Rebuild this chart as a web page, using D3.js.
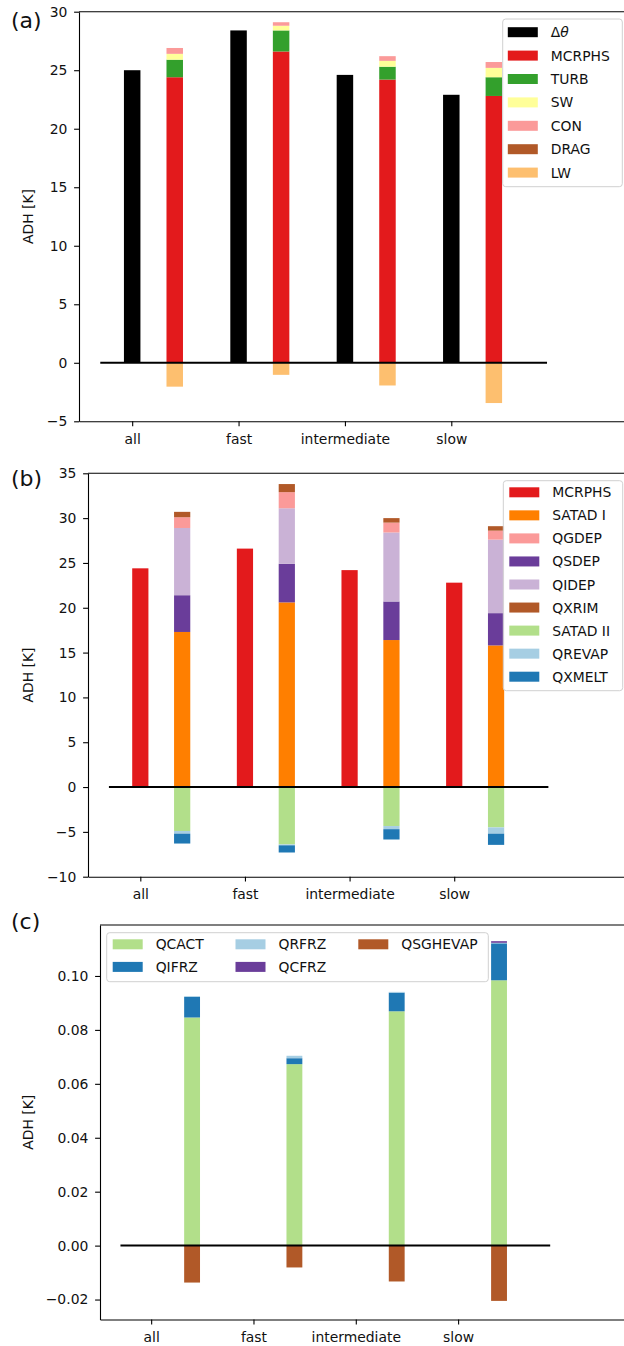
<!DOCTYPE html>
<html>
<head>
<meta charset="utf-8">
<script src="https://cdn.jsdelivr.net/npm/d3@7"></script>
<style>
  body { margin: 0; background: #fff; }
  svg { display: block; font-family: "DejaVu Sans", sans-serif; }
</style>
</head>
<body>
<div id="plot-container"></div>
<script>
var categories = ["all", "fast", "intermediate", "slow"];

// (a) total heating vs. process budget
var dtheta = [25.0, 28.4, 24.6, 22.9];
var mcrphs = [24.4, 26.6, 24.2, 22.8];
var turb = [1.5, 1.8, 1.1, 1.6];
var sw = [0.5, 0.4, 0.5, 0.8];
var con = [0.5, 0.3, 0.4, 0.5];
var drag = [-0.04, -0.03, -0.04, -0.04];
var lw = [-2.0, -1.0, -1.9, -3.4];
var ticksA = [-5, 0, 5, 10, 15, 20, 25, 30];

// (b) microphysics split
var satad1 = [17.3, 20.6, 16.4, 15.8];
var qsdep = [4.1, 4.3, 4.3, 3.6];
var qidep = [7.5, 6.2, 7.7, 8.2];
var qgdep = [1.2, 1.8, 1.1, 1.0];
var qxrim = [0.6, 0.9, 0.5, 0.5];
var satad2 = [-4.9, -6.4, -4.35, -4.5];
var qrevap = [-0.3, -0.1, -0.35, -0.7];
var qxmelt = [-1.1, -0.8, -1.15, -1.25];
var ticksB = [-10, -5, 0, 5, 10, 15, 20, 25, 30, 35];

// (c) small terms
var qcact = [0.0846, 0.0673, 0.0869, 0.0984];
var qifrz = [0.0076, 0.0022, 0.0069, 0.0137];
var qrfrz = [0.0003, 0.0009, 0.0003, 0.0002];
var qcfrz = [0.0000, 0.0000, 0.0000, 0.0006];
var qsghevap = [-0.0137, -0.0081, -0.0133, -0.0205];
var ticksC = [-0.02, 0.00, 0.02, 0.04, 0.06, 0.08, 0.10];

var W = 624, H = 1346;
var fs = 13.9;
var barW = 0.155;

var svg = d3.select("#plot-container")
  .append("svg")
  .attr("width", W)
  .attr("height", H);

function drawPanel(p){
  var x = d3.scaleLinear().domain([-0.5, 4.68]).range([p.left, 630]);
  var y = d3.scaleLinear().domain(p.ydomain).range([p.bottom, p.top]);
  var g = svg.append("g");
  var w = x(barW) - x(0);

  if (p.first) {
    g.selectAll(null).data(p.first.values).enter().append("rect")
      .attr("x", function(d, i){ return x(i - barW / 2); })
      .attr("width", w)
      .attr("y", function(d){ return y(Math.max(0, d)); })
      .attr("height", function(d){ return Math.abs(y(d) - y(0)); })
      .attr("fill", p.first.color);
  }

  // stacked bar, positives up and negatives down
  var pos = [0, 0, 0, 0], neg = [0, 0, 0, 0];
  p.stack.forEach(function(s){
    var segs = s.values.map(function(v, i){
      var base = v >= 0 ? pos[i] : neg[i];
      var end = base + v;
      if (v >= 0) pos[i] = end; else neg[i] = end;
      return {i: i, y0: base, y1: end};
    });
    g.selectAll(null).data(segs).enter().append("rect")
      .attr("x", function(d){ return x(d.i + 0.4 - barW / 2); })
      .attr("width", w)
      .attr("y", function(d){ return y(Math.max(d.y0, d.y1)); })
      .attr("height", function(d){ return Math.abs(y(d.y0) - y(d.y1)); })
      .attr("fill", s.color);
  });

  g.append("line")
    .attr("x1", x(-0.3)).attr("x2", x(3.9))
    .attr("y1", y(0)).attr("y2", y(0))
    .attr("stroke", "#000").attr("stroke-width", 2);

  // spines
  var ya = g.append("g").attr("transform", "translate(" + p.left + ",0)")
    .call(d3.axisLeft(y).tickValues(p.yticks).tickFormat(p.fmt)
      .tickSize(4.9).tickPadding(6.8).tickSizeOuter(0));
  var xa = g.append("g").attr("transform", "translate(0," + p.bottom + ")")
    .call(d3.axisBottom(x).tickValues([0, 1, 2, 3])
      .tickFormat(function(i){ return categories[i]; })
      .tickSize(4.9).tickSizeOuter(0));
  xa.selectAll(".tick text").attr("dy", null).attr("y", 22.5);
  [ya, xa].forEach(function(a){
    a.attr("font-size", fs).attr("font-family", "DejaVu Sans, sans-serif");
    a.selectAll("path, line").attr("stroke", "#000").attr("stroke-width", 1.1);
    a.selectAll("text").attr("fill", "#111");
  });
  g.append("line")
    .attr("x1", p.left).attr("x2", 640)
    .attr("y1", p.top).attr("y2", p.top)
    .attr("stroke", "#000").attr("stroke-width", 1.1);

  g.append("text")
    .attr("transform", "translate(32.5," + ((p.top + p.bottom) / 2) + ") rotate(-90)")
    .attr("text-anchor", "middle")
    .attr("font-size", fs)
    .attr("fill", "#111")
    .text("ADH [K]");

  g.append("text")
    .attr("x", 11).attr("y", p.labelY)
    .attr("font-size", 22)
    .attr("fill", "#111")
    .text(p.label);

  // legend
  var L = p.legend;
  g.append("rect")
    .attr("x", L.x0).attr("y", L.y0)
    .attr("width", L.x1 - L.x0).attr("height", L.y1 - L.y0)
    .attr("rx", 3)
    .attr("fill", "#fff").attr("fill-opacity", 0.8)
    .attr("stroke", "#d0d0d0").attr("stroke-width", 1);
  L.items.forEach(function(it, k){
    var col = Math.floor(k / L.rows), row = k % L.rows;
    var hx = L.hx + col * L.colStep;
    var cy = L.cy + row * L.rowStep;
    g.append("rect")
      .attr("x", hx).attr("y", cy - 5)
      .attr("width", 30).attr("height", 10)
      .attr("fill", it.color);
    var t = g.append("text")
      .attr("x", hx + 43).attr("y", cy + 5)
      .attr("font-size", fs)
      .attr("fill", "#111");
    if (it.name == "dtheta") {
      t.append("tspan").text("\u0394");
      t.append("tspan").attr("font-style", "italic").text("\u03b8");
    } else {
      t.text(it.name);
    }
  });
}

var cRed = "#e31a1c", cGreen = "#33a02c", cYellow = "#ffff99", cPink = "#fb9a99",
    cBrown = "#b15928", cLOrange = "#fdbf6f", cOrange = "#ff7f00", cPurple = "#6a3d9a",
    cLPurple = "#cab2d6", cLGreen = "#b2df8a", cLBlue = "#a6cee3", cBlue = "#1f78b4";

drawPanel({
  label: "(a)", labelY: 28,
  left: 79, top: 11.7, bottom: 421.3,
  ydomain: [-5, 30], yticks: ticksA, fmt: d3.format("d"),
  first: {values: dtheta, color: "#000"},
  stack: [
    {values: mcrphs, color: cRed},
    {values: turb, color: cGreen},
    {values: sw, color: cYellow},
    {values: con, color: cPink},
    {values: drag, color: cBrown},
    {values: lw, color: cLOrange}
  ],
  legend: {
    x0: 502.7, x1: 622.3, y0: 19, y1: 186.7,
    hx: 507.8, cy: 32.2, rowStep: 23.4, rows: 7, colStep: 0,
    items: [
      {name: "dtheta", color: "#000"},
      {name: "MCRPHS", color: cRed},
      {name: "TURB", color: cGreen},
      {name: "SW", color: cYellow},
      {name: "CON", color: cPink},
      {name: "DRAG", color: cBrown},
      {name: "LW", color: cLOrange}
    ]
  }
});

drawPanel({
  label: "(b)", labelY: 486,
  left: 88, top: 473.3, bottom: 876.7,
  ydomain: [-10, 35], yticks: ticksB, fmt: d3.format("d"),
  first: {values: mcrphs, color: cRed},
  stack: [
    {values: satad1, color: cOrange},
    {values: qsdep, color: cPurple},
    {values: qidep, color: cLPurple},
    {values: qgdep, color: cPink},
    {values: qxrim, color: cBrown},
    {values: satad2, color: cLGreen},
    {values: qrevap, color: cLBlue},
    {values: qxmelt, color: cBlue}
  ],
  legend: {
    x0: 503.3, x1: 622.7, y0: 480.7, y1: 690.7,
    hx: 509.3, cy: 492.3, rowStep: 23.05, rows: 9, colStep: 0,
    items: [
      {name: "MCRPHS", color: cRed},
      {name: "SATAD I", color: cOrange},
      {name: "QGDEP", color: cPink},
      {name: "QSDEP", color: cPurple},
      {name: "QIDEP", color: cLPurple},
      {name: "QXRIM", color: cBrown},
      {name: "SATAD II", color: cLGreen},
      {name: "QREVAP", color: cLBlue},
      {name: "QXMELT", color: cBlue}
    ]
  }
});

drawPanel({
  label: "(c)", labelY: 929,
  left: 100, top: 925, bottom: 1319.5,
  ydomain: [-0.0274, 0.1189], yticks: ticksC, fmt: d3.format(".2f"),
  first: null,
  stack: [
    {values: qcact, color: cLGreen},
    {values: qifrz, color: cBlue},
    {values: qrfrz, color: cLBlue},
    {values: qcfrz, color: cPurple},
    {values: qsghevap, color: cBrown}
  ],
  legend: {
    x0: 106.7, x1: 488.3, y0: 932.7, y1: 981.7,
    hx: 112.7, cy: 944.3, rowStep: 22.6, rows: 2, colStep: 122.8,
    items: [
      {name: "QCACT", color: cLGreen},
      {name: "QIFRZ", color: cBlue},
      {name: "QRFRZ", color: cLBlue},
      {name: "QCFRZ", color: cPurple},
      {name: "QSGHEVAP", color: cBrown}
    ]
  }
});
</script>
</body>
</html>
